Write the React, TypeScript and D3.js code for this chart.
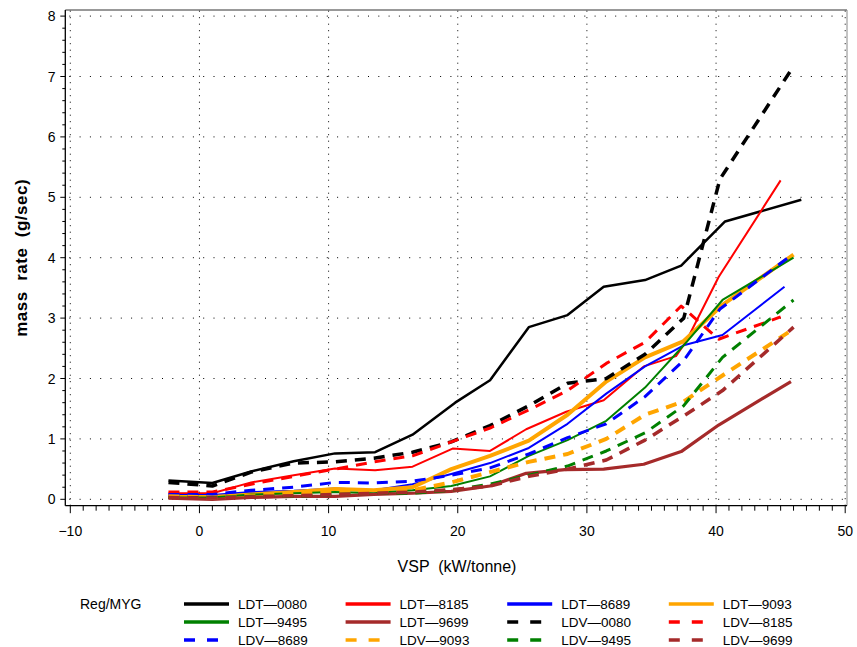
import React from "react";
import * as d3 from "d3";

const xTicks = [-10, 0, 10, 20, 30, 40, 50];
const yTicks = [0, 1, 2, 3, 4, 5, 6, 7, 8];

const LDT_0080 = [[-2.4,0.31],[1,0.27],[4,0.46],[7.3,0.63],[10.5,0.76],[13.6,0.78],[16.5,1.07],[19.8,1.6],[22.5,1.97],[25.5,2.85],[28.5,3.05],[31.3,3.52],[34.5,3.63],[37.3,3.87],[40.7,4.6],[46.6,4.96]];
const LDT_8185 = [[-2.4,0.1],[1,0.1],[4,0.28],[7.3,0.4],[10.5,0.51],[13.6,0.48],[16.5,0.54],[19.6,0.84],[22.5,0.8],[25.3,1.16],[28.4,1.45],[31.3,1.64],[34.4,2.2],[36.9,2.37],[37.7,2.62],[40.2,3.68],[45,5.28]];
const LDT_8689 = [[-2.4,0.07],[1,0.07],[4,0.12],[7.3,0.14],[10.5,0.18],[13.5,0.15],[16.5,0.25],[19.5,0.42],[22.5,0.6],[25.5,0.85],[28.5,1.25],[31.5,1.75],[34.5,2.2],[37.5,2.55],[40.5,2.72],[45.3,3.52]];
const LDT_9093 = [[-2.4,0.04],[1,0.04],[4,0.08],[7.3,0.12],[10.5,0.17],[13.5,0.15],[16.5,0.2],[19.5,0.5],[22.5,0.72],[25.5,0.97],[28.5,1.4],[31.5,1.95],[34.5,2.35],[37.5,2.62],[40.5,3.22],[46,4.05]];
const LDT_9495 = [[-2.4,0.03],[1,0.03],[4,0.08],[7.3,0.1],[10.5,0.12],[13.5,0.1],[16.5,0.15],[19.5,0.22],[22.5,0.38],[25.5,0.72],[28.5,0.98],[31.5,1.3],[34.5,1.85],[37.5,2.55],[40.5,3.3],[46,4.0]];
const LDT_9699 = [[-2.4,0.02],[1,0.0],[4,0.03],[7.3,0.05],[10.5,0.05],[13.5,0.08],[16.5,0.1],[19.5,0.13],[22.5,0.22],[25.3,0.43],[28.3,0.49],[31.3,0.5],[34.4,0.58],[37.3,0.79],[40.2,1.23],[45.8,1.95]];
const LDV_0080 = [[-2.4,0.28],[1,0.22],[4,0.45],[7.3,0.6],[10.5,0.62],[13.5,0.68],[16.5,0.78],[19.5,0.95],[22.5,1.22],[25.5,1.55],[28.5,1.92],[31.5,2.0],[34.5,2.4],[37.5,3.0],[40.3,5.3],[46,7.17]];
const LDV_8185 = [[-2.4,0.12],[1,0.12],[4,0.25],[7.3,0.38],[10.5,0.5],[13.5,0.62],[16.5,0.72],[19.5,0.95],[22.5,1.18],[25.5,1.48],[28.5,1.8],[31.5,2.25],[34.5,2.6],[37.3,3.2],[40.2,2.65],[45,3.02]];
const LDV_8689 = [[-2.4,0.08],[1,0.08],[4,0.15],[7.3,0.2],[10.5,0.28],[13.5,0.27],[16.5,0.3],[19.5,0.4],[22.5,0.52],[25.5,0.75],[28.5,1.02],[31.5,1.25],[34.5,1.7],[37.5,2.3],[40.3,3.15],[45.7,4.02]];
const LDV_9093 = [[-2.4,0.05],[1,0.03],[4,0.06],[7.3,0.1],[10.5,0.13],[13.5,0.13],[16.5,0.15],[19.5,0.28],[22.5,0.45],[25.5,0.62],[28.5,0.75],[31.5,1.0],[34.5,1.4],[37.5,1.62],[40.5,2.05],[46,2.82]];
const LDV_9495 = [[-2.4,0.03],[1,0.03],[4,0.05],[7.3,0.05],[10.5,0.08],[13.5,0.1],[16.5,0.1],[19.5,0.15],[22.5,0.25],[25.5,0.4],[28.5,0.55],[31.5,0.8],[34.5,1.1],[37.5,1.55],[40.5,2.35],[46,3.3]];
const LDV_9699 = [[-2.4,0.03],[1,0.02],[4,0.04],[7.3,0.06],[10.5,0.08],[13.5,0.1],[16.5,0.12],[19.5,0.16],[22.5,0.22],[25.5,0.38],[28.5,0.5],[31.5,0.65],[34.5,0.98],[37.5,1.38],[40.5,1.8],[46,2.85]];

const seriesNames = ["LDT\u20140080","LDT\u20148185","LDT\u20148689","LDT\u20149093","LDT\u20149495","LDT\u20149699","LDV\u20140080","LDV\u20148185","LDV\u20148689","LDV\u20149093","LDV\u20149495","LDV\u20149699"];
const seriesData = [LDT_0080, LDT_8185, LDT_8689, LDT_9093, LDT_9495, LDT_9699, LDV_0080, LDV_8185, LDV_8689, LDV_9093, LDV_9495, LDV_9699];
const seriesColors = ["#000000","#ff0000","#0000ff","#ffa500","#008000","#a52a2a","#000000","#ff0000","#0000ff","#ffa500","#008000","#a52a2a"];
const seriesWidths = [2.5, 2, 2, 4, 2, 3.2, 3.5, 3, 3, 4, 3, 3.5];
const seriesDashed = [false, false, false, false, false, false, true, true, true, true, true, true];

export default function App() {
  const W = 857, H = 647;
  const x = d3.scaleLinear().domain([-10, 50]).range([70.3, 845.2]);
  const y = d3.scaleLinear().domain([0, 8]).range([499.3, 16.1]);
  const frame = { l: 65.3, t: 10, r: 847, b: 505.7 };
  const line = d3.line<number[]>().x(d => x(d[0])).y(d => y(d[1]));
  const font = "'Liberation Sans', Arial, sans-serif";

  const xMinor = d3.range(-10, 51, 1);
  const yMinor = d3.range(0, 8.001, 0.2);

  return (
    <svg width={W} height={H} style={{ position: "absolute", left: 0, top: 0, background: "#fff" }} fontFamily={font}>
      {/* grid */}
      {yTicks.map(t => (
        <line key={"gy" + t} x1={frame.l + 4} x2={frame.r} y1={y(t)} y2={y(t)} stroke="#000" strokeWidth={1} strokeDasharray="1,9.3" />
      ))}
      {xTicks.map(t => (
        <line key={"gx" + t} x1={x(t)} x2={x(t)} y1={frame.b} y2={frame.t} stroke="#000" strokeWidth={1} strokeDasharray="1,5.5" />
      ))}
      {/* series */}
      {seriesData.map((d, i) => (
        <path key={"s" + i} d={line(d) || ""} fill="none" stroke={seriesColors[i]} strokeWidth={seriesWidths[i]}
          strokeDasharray={seriesDashed[i] ? "11,8" : undefined} strokeLinejoin="round" />
      ))}
      {/* frame */}
      <line x1={frame.l} x2={frame.r} y1={frame.t} y2={frame.t} stroke="#333" strokeWidth={1} />
      <line x1={frame.r} x2={frame.r} y1={frame.t} y2={frame.b} stroke="#888" strokeWidth={1} />
      <line x1={frame.l} x2={frame.l} y1={frame.t} y2={frame.b} stroke="#000" strokeWidth={1.3} />
      <line x1={frame.l} x2={frame.r} y1={frame.b} y2={frame.b} stroke="#000" strokeWidth={1.3} />
      {/* x ticks */}
      {xMinor.map(t => (
        <line key={"xm" + t} x1={x(t)} x2={x(t)} y1={frame.b} y2={frame.b + (t % 10 === 0 ? 7.5 : 5)} stroke="#000" strokeWidth={1} />
      ))}
      {xTicks.map(t => (
        <text key={"xl" + t} x={x(t)} y={536} textAnchor="middle" fontSize={14}>{t < 0 ? "\u2212" + Math.abs(t) : t}</text>
      ))}
      {/* y ticks */}
      {yMinor.map((t, i) => (
        <line key={"ym" + i} x1={frame.l} x2={frame.l - (i % 5 === 0 ? 5 : 3)} y1={y(t)} y2={y(t)} stroke="#000" strokeWidth={1} />
      ))}
      {yTicks.map(t => (
        <text key={"yl" + t} x={55.5} y={y(t) + 5} textAnchor="end" fontSize={14}>{t}</text>
      ))}
      {/* titles */}
      <text x={457} y={572} textAnchor="middle" fontSize={16} style={{ whiteSpace: "pre" }}>{"VSP  (kW/tonne)"}</text>
      <text transform={`translate(27,${(frame.t + frame.b) / 2}) rotate(-90)`} textAnchor="middle" fontSize={17} fontWeight="bold" letterSpacing={0.5} style={{ whiteSpace: "pre" }}>{"mass  rate  (g/sec)"}</text>
      {/* legend */}
      <text x={80} y={609} fontSize={14}>Reg/MYG</text>
      {seriesNames.map((n, i) => {
        const col = i % 4, row = Math.floor(i / 4);
        const lx = 184 + col * 161.6, ly = 604 + row * 18;
        return (
          <g key={"lg" + i}>
            <line x1={lx} x2={lx + 45} y1={ly} y2={ly} stroke={seriesColors[i]} strokeWidth={3.5}
              strokeDasharray={seriesDashed[i] ? "11,12" : undefined} />
            <text x={lx + 54} y={ly + 5} fontSize={13.5}>{n}</text>
          </g>
        );
      })}
    </svg>
  );
}
